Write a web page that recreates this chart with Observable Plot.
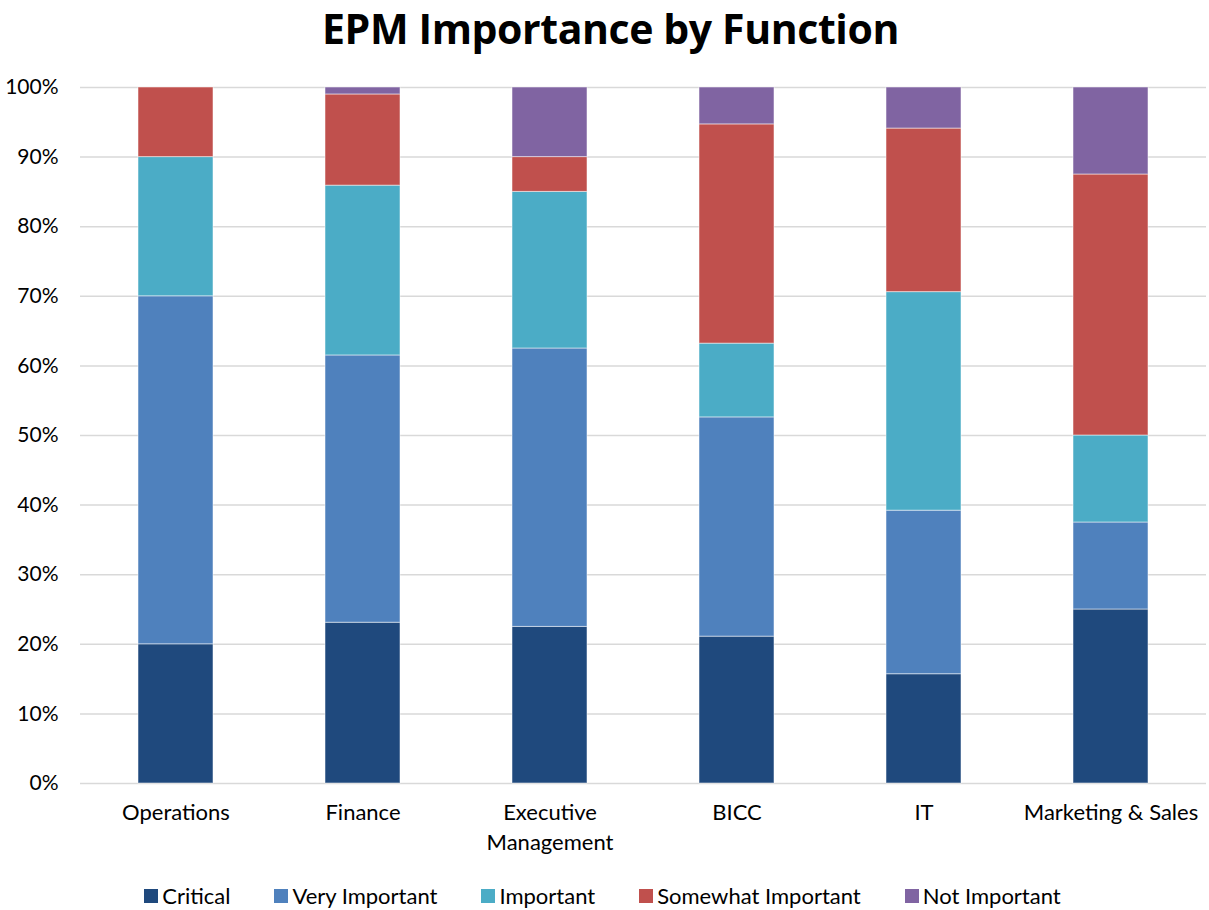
<!DOCTYPE html>
<html>
<head>
<meta charset="utf-8">
<script src="https://cdn.jsdelivr.net/npm/d3@7"></script>
<script src="https://cdn.jsdelivr.net/npm/@observablehq/plot@0.6"></script>
<style>
  html, body { margin: 0; padding: 0; background: #fff; }
  body { width: 1209px; height: 910px; overflow: hidden; font-family: Lato, "Open Sans", sans-serif; }
  #title { height: 60px; line-height: 56px; text-align: center; font-weight: bold; font-size: 41px; color: #000; font-family: "Open Sans", Lato, sans-serif; letter-spacing: -0.4px; padding-left: 12px; }
  #legend { display: flex; justify-content: center; align-items: center; gap: 44px; font-size: 22px; color: #000; margin-top: 22px; padding-right: 4px; }
  .item { display: flex; align-items: center; gap: 4px; }
  .sw { width: 14px; height: 14px; display: inline-block; }
</style>
</head>
<body>
<div id="title">EPM Importance by Function</div>
<div id="chart"></div>
<div id="legend"></div>
<script>
const functions = ["Operations", "Finance", "Executive Management", "BICC", "IT", "Marketing & Sales"];
const functionLabels = ["Operations", "Finance", "Executive\nManagement", "BICC", "IT", "Marketing & Sales"];
const series = ["Critical", "Very Important", "Important", "Somewhat Important", "Not Important"];
const colors = ["#1F497D", "#4F81BD", "#4BACC6", "#C0504D", "#8064A2"];
const critical          = [20, 23.1, 22.5, 21.1, 15.7, 25];
const veryImportant     = [50, 38.4, 40, 31.5, 23.5, 12.5];
const important         = [20, 24.4, 22.5, 10.6, 31.4, 12.5];
const somewhatImportant = [10, 13.1, 5, 31.5, 23.5, 37.5];
const notImportant      = [0, 1.0, 10, 5.3, 5.9, 12.5];
const yTicks = [0, 10, 20, 30, 40, 50, 60, 70, 80, 90, 100];

const valuesBySeries = [critical, veryImportant, important, somewhatImportant, notImportant];
const data = [];
series.forEach((s, si) => functions.forEach((f, fi) => data.push({fn: f, series: s, value: valuesBySeries[si][fi]})));

const labelOf = new Map(functions.map((f, i) => [f, functionLabels[i]]));

const chart = Plot.plot({
  width: 1209,
  height: 800,
  marginTop: 27,
  marginBottom: 77,
  marginLeft: 80,
  marginRight: 3,
  style: {fontFamily: "Lato, 'Open Sans', sans-serif", fontSize: "20px", color: "#000", background: "#fff"},
  x: {domain: functions, paddingInner: 0.6, paddingOuter: 0.3, label: null},
  y: {domain: [0, 100], label: null},
  color: {domain: series, range: colors},
  marks: [
    Plot.gridY(yTicks, {stroke: "#d9d9d9", strokeOpacity: 1, strokeWidth: 1.5}),
    Plot.barY(data, {x: "fn", y: "value", fill: "series", stroke: "#ffffff", strokeOpacity: 0.5, strokeWidth: 1}),
    Plot.axisY({ticks: yTicks, tickFormat: d => d + "%", tickSize: 0, tickPadding: 22, fontSize: 21, label: null}),
    Plot.axisX({tickSize: 0, tickPadding: 15, tickFormat: d => labelOf.get(d), fontSize: 22, lineHeight: 1.36, label: null})
  ]
});
document.getElementById("chart").appendChild(chart);

const legend = document.getElementById("legend");
series.forEach((s, i) => {
  const it = document.createElement("div");
  it.className = "item";
  const sw = document.createElement("span");
  sw.className = "sw";
  sw.style.background = colors[i];
  const t = document.createElement("span");
  t.textContent = s;
  it.appendChild(sw); it.appendChild(t);
  legend.appendChild(it);
});
</script>
</body>
</html>
